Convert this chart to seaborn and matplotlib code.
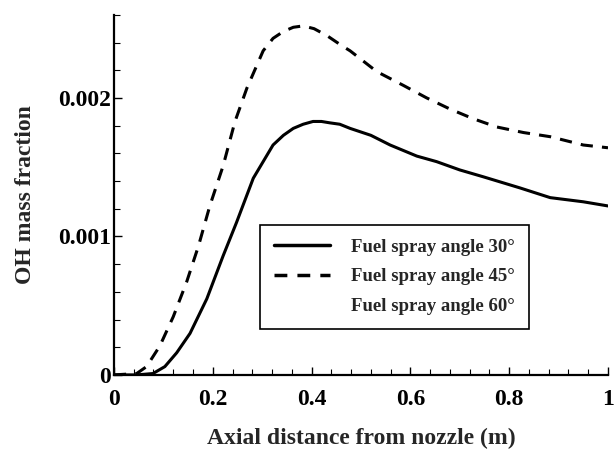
import numpy as np
import pandas as pd
import matplotlib
matplotlib.use("Agg")
import matplotlib.pyplot as plt
from matplotlib.lines import Line2D
from matplotlib.ticker import MultipleLocator, FuncFormatter
import seaborn as sns

# Data
x30 = [0.0, 0.046, 0.079, 0.103, 0.127, 0.154, 0.188, 0.221, 0.248, 0.282, 0.322,
       0.343, 0.363, 0.383, 0.403, 0.420, 0.437, 0.457, 0.478, 0.52, 0.559, 0.613,
       0.653, 0.700, 0.748, 0.822, 0.883, 0.950, 1.0]
y30 = [0.0, 0.0, 0.00001, 0.00006, 0.00016, 0.00030, 0.00055, 0.00086, 0.00110,
       0.00142, 0.00166, 0.00173, 0.00178, 0.00181, 0.00183, 0.00183, 0.00182,
       0.00181, 0.00178, 0.00173, 0.00166, 0.00158, 0.00154, 0.00148, 0.00143,
       0.00135, 0.00128, 0.00125, 0.00122]

x45 = [0.0, 0.046, 0.066, 0.093, 0.12, 0.147, 0.171, 0.194, 0.221, 0.245, 0.269,
       0.302, 0.322, 0.343, 0.363, 0.383, 0.405, 0.431, 0.46, 0.478, 0.532, 0.586,
       0.633, 0.680, 0.727, 0.775, 0.829, 0.883, 0.950, 1.0]
y45 = [0.0, 0.00001, 0.00006, 0.00021, 0.00042, 0.00067, 0.00093, 0.00122, 0.00151,
       0.00183, 0.00207, 0.00234, 0.00243, 0.00248, 0.00251, 0.00252, 0.00250,
       0.00245, 0.00238, 0.00234, 0.00219, 0.00209, 0.00200, 0.00192, 0.00185,
       0.00179, 0.00175, 0.00172, 0.00166, 0.00164]

labels = ["Fuel spray angle 30°", "Fuel spray angle 45°", "Fuel spray angle 60°"]

df = pd.concat([
    pd.DataFrame({"x": x30, "y": y30, "series": labels[0]}),
    pd.DataFrame({"x": x45, "y": y45, "series": labels[1]}),
])

sns.set_style("ticks")
plt.rcParams["font.family"] = ["Liberation Serif", "DejaVu Serif"]
plt.rcParams["font.weight"] = "bold"
plt.rcParams["axes.labelweight"] = "bold"

fig = plt.figure(figsize=(6.16, 4.49), dpi=100)
ax = fig.add_axes([0.185, 0.165, 0.802, 0.802])

sns.lineplot(data=df, x="x", y="y", hue="series", style="series",
             palette=["black", "black"], dashes=[(None, None), (4, 3)],
             linewidth=2.2, ax=ax, legend=False, estimator=None, sort=False)

ax.set_xlim(0, 1.0)
ax.set_ylim(0, 0.0026)
ax.xaxis.set_major_locator(MultipleLocator(0.2))
ax.xaxis.set_minor_locator(MultipleLocator(0.04))
ax.yaxis.set_major_locator(MultipleLocator(0.001))
ax.yaxis.set_minor_locator(MultipleLocator(0.0002))

def fmt(v, pos):
    if abs(v) < 1e-12:
        return "0"
    s = ("%.3f" % v).rstrip("0").rstrip(".")
    return s

ax.xaxis.set_major_formatter(FuncFormatter(fmt))
ax.yaxis.set_major_formatter(FuncFormatter(fmt))

for s in ["top", "right"]:
    ax.spines[s].set_visible(False)
for s in ["left", "bottom"]:
    ax.spines[s].set_linewidth(1.6)
    ax.spines[s].set_color("black")

ax.tick_params(which="major", direction="in", length=6, width=1, labelsize=17, colors="black")
ax.tick_params(axis="x", which="major", pad=10)
ax.tick_params(axis="y", which="major", pad=2)
ax.tick_params(which="minor", direction="in", length=4, width=0.8, colors="black")
for t in ax.get_xticklabels() + ax.get_yticklabels():
    t.set_fontweight("bold")

ax.set_xlabel("Axial distance from nozzle (m)", fontsize=17, fontweight="bold", labelpad=13)
ax.set_ylabel("OH mass fraction", fontsize=17, fontweight="bold", labelpad=16)

handles = [
    Line2D([], [], color="black", lw=2.5, linestyle="-"),
    Line2D([], [], color="black", lw=2.5, linestyle=(0, (3.7, 2.9))),
    Line2D([], [], color="none", lw=0),
]
leg = ax.legend(handles, labels, loc="upper left", bbox_to_anchor=(0.296, 0.417),
                frameon=True, fancybox=False, framealpha=1, edgecolor="black",
                prop={"family": "Liberation Serif", "weight": "bold", "size": 13.5},
                handlelength=3.0, handletextpad=1.1, labelspacing=0.66,
                borderpad=0.74, borderaxespad=0)
leg.get_frame().set_linewidth(1.2)

fig.savefig("out.png", dpi=100)
